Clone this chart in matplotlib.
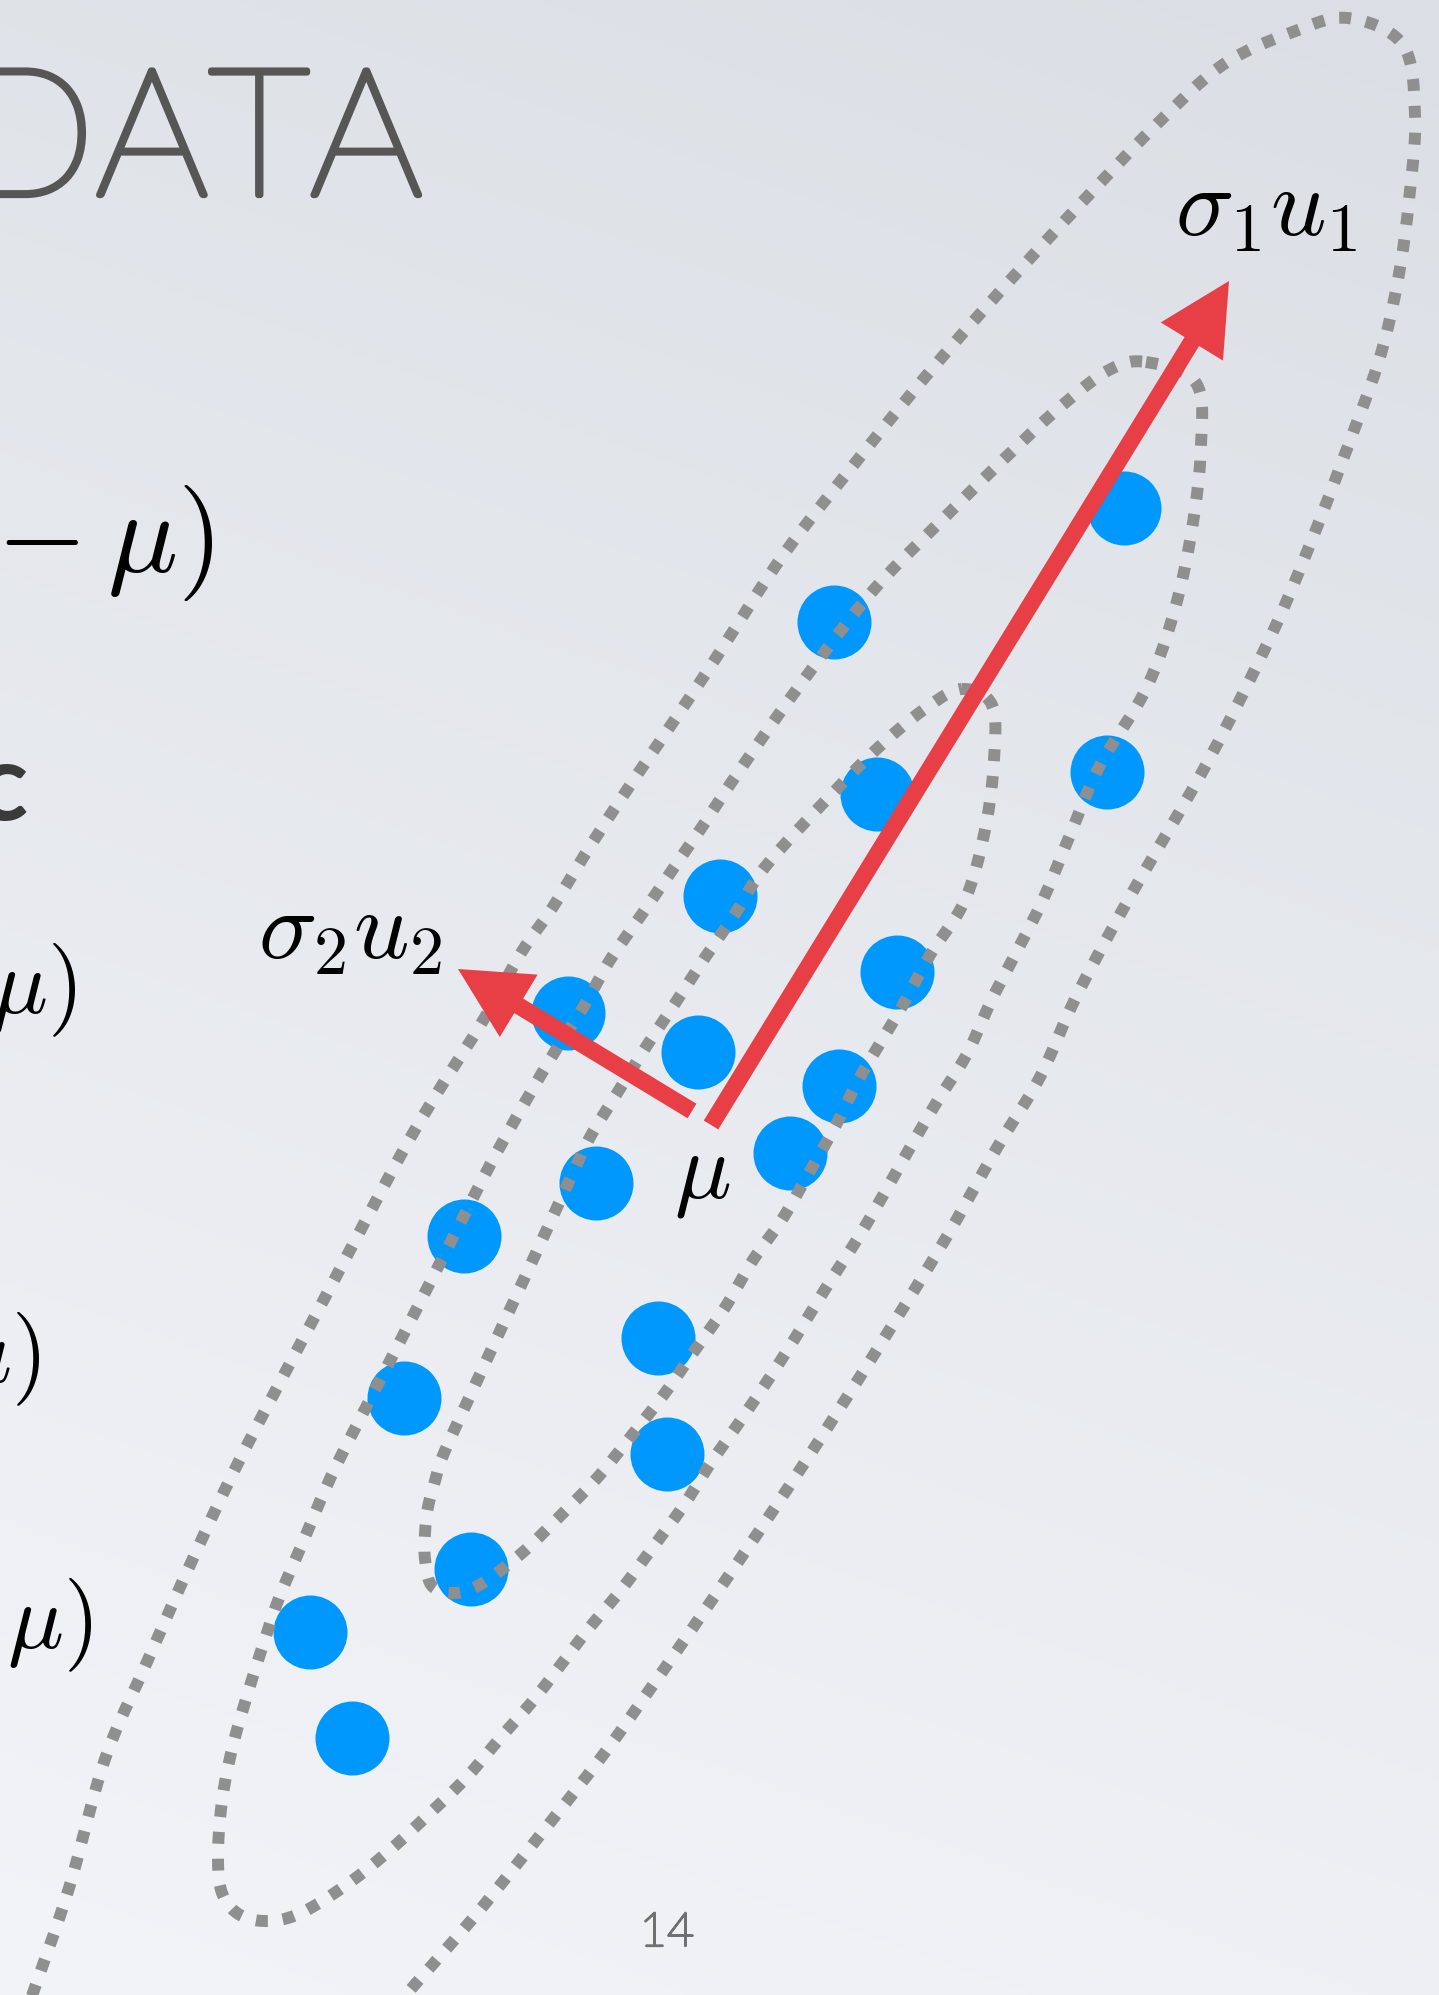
import numpy as np
import matplotlib
matplotlib.use("Agg")
import matplotlib.pyplot as plt
import matplotlib.patches as mpatches
import matplotlib.patheffects as pe

plt.rcParams['mathtext.fontset'] = 'cm'

W, H = 1439, 1995

# samples (pixel space of the slide)
pts_x = [1124, 834, 877, 1107, 720, 897, 568, 698, 839, 790,
         596, 464, 658, 404, 667, 471, 310, 352]
pts_y = [508, 622, 794, 772, 896, 972, 1013, 1052, 1086, 1153,
         1183, 1236, 1338, 1398, 1454, 1569, 1632, 1738]

# principal directions drawn from the mean
arrow_tail_x = [711, 692]
arrow_tail_y = [1125, 1111]
arrow_tip_x = [1229, 458]
arrow_tip_y = [281, 969]

# dotted level curves
outer_x = [20, 34, 69, 105, 147, 190, 241, 321, 398, 439, 481, 521, 551, 579,
           607, 637, 667, 712, 779, 843, 926, 1004, 1086, 1160, 1224, 1293,
           1348, 1403, 1415, 1410, 1399, 1380, 1348, 1311, 1270, 1206, 1132,
           1077, 1040, 998, 946, 890, 833, 774, 714, 660, 606, 541, 474, 406, 380]
outer_y = [2030, 1990, 1888, 1759, 1662, 1565, 1457, 1305, 1160, 1090, 1024,
           953, 910, 864, 820, 775, 731, 664, 561, 478, 376, 287, 198, 121, 64,
           32, 18, 45, 115, 191, 274, 357, 446, 542, 638, 765, 893, 995, 1077,
           1146, 1238, 1329, 1419, 1509, 1597, 1675, 1751, 1834, 1917, 1995, 2030]

middle_x = [1146, 1196, 1201, 1192, 1174, 1146, 1100, 1070, 1040, 994, 967,
            938, 911, 885, 858, 829, 802, 774, 743, 712, 684, 653, 621, 586,
            536, 501, 467, 428, 390, 349, 303, 270, 240, 222, 218, 222, 232,
            246, 262, 279, 300, 321, 343, 411, 477, 502, 528, 554, 584, 610,
            640, 670, 702, 733, 797, 871, 939, 1004, 1059, 1109]
middle_y = [362, 383, 446, 529, 612, 689, 765, 835, 906, 995, 1054, 1100,
            1146, 1192, 1238, 1283, 1327, 1371, 1417, 1461, 1505, 1547, 1590,
            1632, 1697, 1737, 1777, 1815, 1850, 1883, 1912, 1921, 1915, 1893,
            1855, 1801, 1749, 1699, 1648, 1598, 1549, 1499, 1452, 1320, 1190,
            1143, 1097, 1053, 1006, 960, 917, 873, 827, 780, 689, 593, 523, 459,
            408, 370]

inner_x = [962, 992, 994, 985, 965, 930, 900, 860, 837, 810, 783, 753, 726,
           695, 665, 632, 598, 561, 522, 481, 455, 432, 425, 425, 428, 435, 444,
           482, 519, 565, 589, 616, 644, 672, 702, 733, 765, 829, 880, 926]
inner_y = [689, 705, 760, 830, 900, 955, 1010, 1077, 1123, 1171, 1218, 1260,
           1306, 1350, 1393, 1435, 1477, 1515, 1553, 1584, 1593, 1586, 1559,
           1533, 1507, 1481, 1453, 1370, 1290, 1190, 1139, 1095, 1050, 1008,
           962, 917, 867, 797, 746, 708]


def catmull_rom(xs, ys, closed, n=24):
    P = np.column_stack([xs, ys]).astype(float)
    if closed:
        P = np.vstack([P[-1], P, P[0], P[1]])
    else:
        P = np.vstack([2 * P[0] - P[1], P, 2 * P[-1] - P[-2]])
    t = np.linspace(0, 1, n, endpoint=False)[:, None]
    segs = []
    for i in range(1, len(P) - 2):
        p0, p1, p2, p3 = P[i - 1], P[i], P[i + 1], P[i + 2]
        segs.append(0.5 * (2 * p1 + (p2 - p0) * t
                           + (2 * p0 - 5 * p1 + 4 * p2 - p3) * t ** 2
                           + (3 * p1 - p0 - 3 * p2 + p3) * t ** 3))
    segs.append(P[-2][None])
    return np.vstack(segs)


fig = plt.figure(figsize=(W / 100, H / 100), dpi=100)
ax = fig.add_axes([0, 0, 1, 1])
ax.set_xlim(0, W)
ax.set_ylim(H, 0)
ax.axis('off')

# soft slide background
gy = np.linspace(0, 1, 300)[:, None]
gx = np.linspace(0, 1, 300)[None, :]
t = np.clip(0.8 * gy + 0.2 * (1 - gx), 0, 1)
top = np.array([219, 223, 229]) / 255
bottom = np.array([243, 244, 248]) / 255
bg = top + (bottom - top) * t[..., None]
ax.imshow(bg, extent=(0, W, H, 0), aspect='auto', zorder=0,
          interpolation='bicubic')

ax.scatter(pts_x, pts_y, s=2840, color='#0098fd', linewidths=0, zorder=2)

for xs, ys, closed in [(outer_x, outer_y, False),
                       (middle_x, middle_y, True),
                       (inner_x, inner_y, True)]:
    c = catmull_rom(xs, ys, closed)
    ax.plot(c[:, 0], c[:, 1], color='#8f8f8f', lw=8.6,
            linestyle=(0, (1, 1.25)), dash_capstyle='butt', zorder=3)

for x0, y0, x1, y1 in zip(arrow_tail_x, arrow_tail_y, arrow_tip_x, arrow_tip_y):
    ax.add_patch(mpatches.FancyArrow(x0, y0, x1 - x0, y1 - y0, width=17,
                                     head_width=73, head_length=71,
                                     length_includes_head=True,
                                     color='#e83e46', lw=0, zorder=4))

math_kw = dict(color='black', zorder=5, va='baseline')
ax.text(1175, 235, r'$\sigma_1 u_1$', ha='left', fontsize=70, **math_kw)
ax.text(258, 958, r'$\sigma_2 u_2$', ha='left', fontsize=70, **math_kw)
ax.text(674, 1197, r'$\mu$', ha='left', fontsize=68, **math_kw)

# equations cut off at the left edge
ax.text(214, 572, r'${}-\mu)$', ha='right', fontsize=84, **math_kw)
ax.text(76, 1013, r'$\mu)$', ha='right', fontsize=67, **math_kw)
ax.text(40, 1382, r'$\mu)$', ha='right', fontsize=67, **math_kw)
ax.text(92, 1648, r'$\mu)$', ha='right', fontsize=67, **math_kw)

ax.text(28, 820, 'c', ha='right', va='baseline', fontsize=78,
        family='Lato', fontweight='bold', color='#3a3a3a', zorder=5)

title_col = '#565656'
ax.text(423, 195, 'DATA', ha='right', va='baseline', fontsize=128,
        family='Lato', fontweight='light', color=title_col, zorder=5,
        path_effects=[pe.withStroke(linewidth=4.5, foreground=title_col)])
num_col = '#707070'
ax.text(667, 1946, '14', ha='center', va='baseline', fontsize=34,
        family='Lato', fontweight='light', color=num_col, zorder=5,
        path_effects=[pe.withStroke(linewidth=1.6, foreground=num_col)])

fig.savefig('out.png', dpi=100)
